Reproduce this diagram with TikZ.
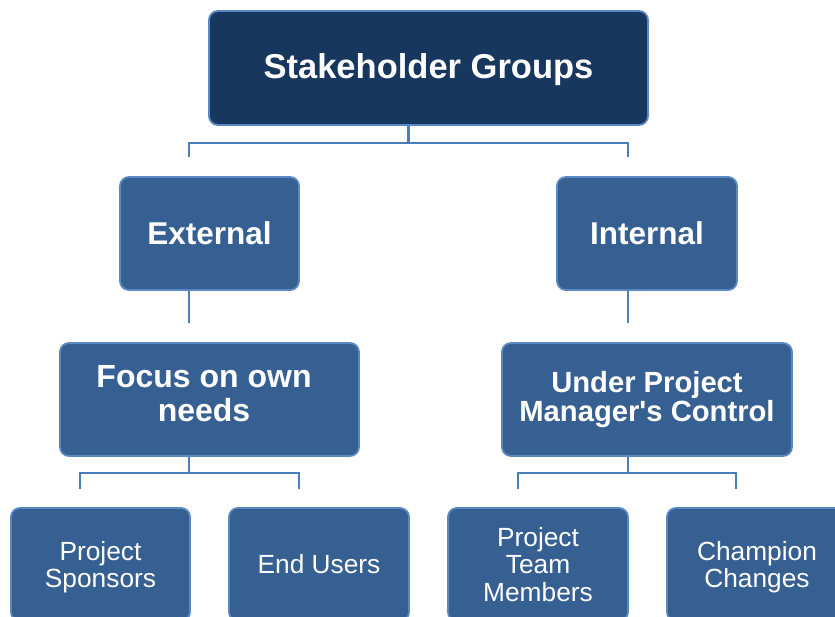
\documentclass[tikz,border=0pt]{standalone}
\usepackage{fontspec}
\setmainfont{Liberation Sans}
\usetikzlibrary{calc}
\definecolor{navy}{HTML}{17375E}
\definecolor{midblue}{HTML}{376092}
\definecolor{edgeblue}{HTML}{5A88C2}
\definecolor{linkblue}{HTML}{4A7EBB}
\tikzset{
  box/.style={rectangle, rounded corners=9pt, draw=edgeblue, line width=1.8pt,
    fill=midblue, text=white, align=center, inner sep=0pt,
    minimum width=180pt, minimum height=113pt},
  toptext/.style={font=\fontsize{34.5pt}{40pt}\selectfont\bfseries},
  midtext/.style={font=\fontsize{31.5pt}{34pt}\selectfont\bfseries},
  focustext/.style={font=\fontsize{32pt}{34pt}\selectfont\bfseries},
  undertext/.style={font=\fontsize{29.2pt}{29pt}\selectfont\bfseries},
  lowtext/.style={font=\fontsize{26.3pt}{27.5pt}\selectfont},
  link/.style={draw=linkblue, line width=2.5pt}
}
\begin{document}
\begin{tikzpicture}[x=1pt,y=-1pt]
\useasboundingbox (0,0) rectangle (835,616);
\clip (0,0) rectangle (835,616);
\node[box, fill=navy, toptext, minimum width=439pt, minimum height=114pt, text depth=4pt] (root) at (428.5,68) {Stakeholder Groups};
\node[box, midtext, minimum width=179pt] (ext) at (209.5,233.5) {External};
\node[box, midtext] (int) at (647,233.5) {Internal};
\node[box, focustext, minimum width=299pt, text depth=12pt] (focus) at (209.5,399.5) {\hspace*{-11pt}Focus on own\\\hspace*{-11pt}needs};
\node[box, undertext, minimum width=290pt] (under) at (647,399.5) {Under Project\\Manager\textquotesingle s Control};
\node[box, lowtext, minimum width=179pt, text height=52pt] (ps) at (100.5,564.5) {Project\\Sponsors};
\node[box, lowtext] (eu) at (319,564.5) {End Users};
\node[box, lowtext] (ptm) at (538,564.5) {Project\\Team\\Members};
\node[box, lowtext, text height=52pt] (cc) at (757,564.5) {Champion\\Changes};
% connectors
\coordinate (t1) at (189,157);
\coordinate (t2) at (628,157);
\draw[link] ($(root.south)+(-20,0)$) -- ($(root.south)+(-20,17)$);
\draw[link] (t1) |- ($(root.south)+(-20,17)$) -| (t2);
\coordinate (t3) at (189,323);
\coordinate (t4) at (628,323);
\draw[link] ($(ext.south)+(-20.5,0)$) -- (t3);
\draw[link] ($(int.south)+(-19,0)$) -- (t4);
\coordinate (t5) at (80,489);
\coordinate (t6) at (299,489);
\coordinate (t7) at (518,489);
\coordinate (t8) at (736,489);
\draw[link] ($(focus.south)+(-20.5,0)$) -- ($(focus.south)+(-20.5,16)$);
\draw[link] (t5) |- ($(focus.south)+(-20.5,16)$) -| (t6);
\draw[link] ($(under.south)+(-19,0)$) -- ($(under.south)+(-19,16)$);
\draw[link] (t7) |- ($(under.south)+(-19,16)$) -| (t8);
\end{tikzpicture}
\end{document}
